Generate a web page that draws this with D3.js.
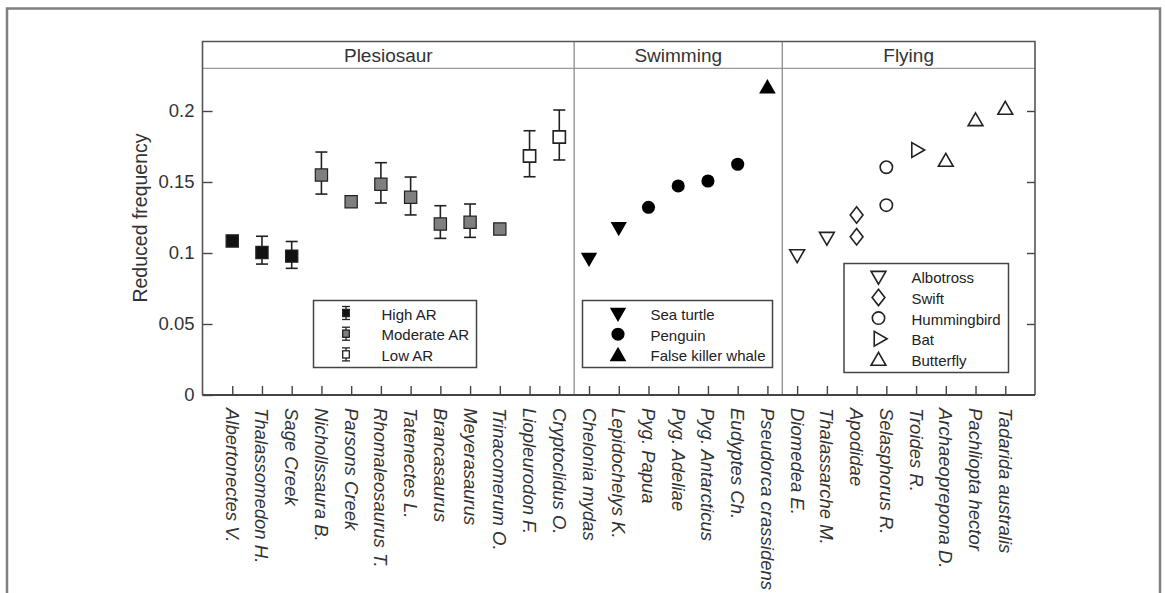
<!DOCTYPE html>
<html>
<head>
<meta charset="utf-8">
<script src="https://cdn.jsdelivr.net/npm/d3@7"></script>
<style>
  body { margin: 0; background: #fff; }
  svg { display: block; font-family: "Liberation Sans", Arial, sans-serif; }
</style>
</head>
<body>
<div id="chart"></div>
<script>
const groups = ["Plesiosaur", "Swimming", "Flying"];

const plesioNames = ["Albertonectes V.", "Thalassomedon H.", "Sage Creek", "Nichollssaura B.", "Parsons Creek", "Rhomaleosaurus T.", "Tatenectes L.", "Brancasaurus", "Meyerasaurus", "Trinacomerum O.", "Liopleurodon F.", "Cryptoclidus O."];
const plesioValues = [0.1085, 0.1003, 0.0978, 0.1549, 0.1361, 0.1484, 0.1392, 0.1204, 0.1216, 0.1169, 0.1683, 0.1817];
const plesioLow = [null, 0.0922, 0.0892, 0.1415, null, 0.1352, 0.1268, 0.1103, 0.111, null, 0.1537, 0.1655];
const plesioHigh = [null, 0.1118, 0.1081, 0.1711, null, 0.1636, 0.1535, 0.1333, 0.1345, null, 0.1861, 0.2007];
const plesioAR = ["High AR", "High AR", "High AR", "Moderate AR", "Moderate AR", "Moderate AR", "Moderate AR", "Moderate AR", "Moderate AR", "Moderate AR", "Low AR", "Low AR"];

const swimNames = ["Chelonia mydas", "Lepidochelys K.", "Pyg. Papua", "Pyg. Adeliae", "Pyg. Antarcticus", "Eudyptes Ch.", "Pseudorca crassidens"];
const swimValues = [0.0968, 0.1185, 0.1322, 0.1472, 0.1507, 0.1625, 0.2157];
const swimKinds = ["Sea turtle", "Sea turtle", "Penguin", "Penguin", "Penguin", "Penguin", "False killer whale"];

const flyNames = ["Diomedea E.", "Thalassarche M.", "Apodidae", "Selasphorus R.", "Troides R.", "Archaeoprepona D.", "Pachliopta hector", "Tadarida australis"];
const flyValues = [[0.0993], [0.1115], [0.1115, 0.1268], [0.1337, 0.1604], [0.1725], [0.1641], [0.1927], [0.2007]];
const flyKinds = ["Albotross", "Albotross", "Swift", "Hummingbird", "Bat", "Butterfly", "Butterfly", "Butterfly"];

const arLegend = ["High AR", "Moderate AR", "Low AR"];
const swimLegend = ["Sea turtle", "Penguin", "False killer whale"];
const flyLegend = ["Albotross", "Swift", "Hummingbird", "Bat", "Butterfly"];

const yTicks = [0, 0.05, 0.1, 0.15, 0.2];

const width = 1165;
const height = 593;
const frame = { left: 202.5, right: 1035, top: 41.5, bottom: 395 };

const svg = d3
  .select("#chart")
  .append("svg")
  .attr("width", width)
  .attr("height", height);

// outer page border
svg
  .append("rect")
  .attr("x", 7)
  .attr("y", 8.5)
  .attr("width", 1153)
  .attr("height", 620)
  .attr("fill", "none")
  .attr("stroke", "#808080")
  .attr("stroke-width", 2.5);

const allNames = plesioNames.concat(swimNames, flyNames);
const x = d3.scalePoint().domain(allNames).range([frame.left, frame.right]).padding(1);
const y = d3.scaleLinear().domain([0, 0.23]).range([frame.bottom, 68.4]);

const headerBottom = y(0.23);
const div1 = (x(plesioNames[plesioNames.length - 1]) + x(swimNames[0])) / 2;
const div2 = (x(swimNames[swimNames.length - 1]) + x(flyNames[0])) / 2;
const groupBounds = [
  [frame.left, div1],
  [div1, div2],
  [div2, frame.right],
];

// header band + dividers
svg
  .append("line")
  .attr("x1", frame.left).attr("x2", frame.right)
  .attr("y1", headerBottom).attr("y2", headerBottom)
  .attr("stroke", "#9a9a9a").attr("stroke-width", 1.3);

[div1, div2].forEach((d) => {
  svg
    .append("line")
    .attr("x1", d).attr("x2", d)
    .attr("y1", frame.top).attr("y2", frame.bottom)
    .attr("stroke", "#8c8c8c").attr("stroke-width", 1.3);
});

svg
  .selectAll("text.group")
  .data(groups)
  .enter()
  .append("text")
  .attr("class", "group")
  .attr("x", (d, i) => (groupBounds[i][0] + groupBounds[i][1]) / 2)
  .attr("y", (frame.top + headerBottom) / 2 + 1)
  .attr("text-anchor", "middle")
  .attr("dominant-baseline", "central")
  .attr("font-size", 19)
  .attr("fill", "#333")
  .text((d) => d);

// axes
const yAxis = d3.axisLeft(y).tickValues(yTicks).tickSize(-10).tickPadding(8).tickFormat((d) => String(d));
const gy = svg.append("g").attr("transform", `translate(${frame.left},0)`).call(yAxis);
gy.select(".domain").remove();
gy.selectAll(".tick line").attr("stroke", "#444").attr("stroke-width", 1.4);
gy.selectAll(".tick text").attr("font-size", 18.5).attr("fill", "#333").attr("font-family", null);

const yAxisR = d3.axisRight(y).tickValues(yTicks.slice(1)).tickSize(-8).tickFormat("");
const gyr = svg.append("g").attr("transform", `translate(${frame.right},0)`).call(yAxisR);
gyr.select(".domain").remove();
gyr.selectAll(".tick line").attr("stroke", "#444").attr("stroke-width", 1.4);

const xAxis = d3.axisBottom(x).tickSize(-9).tickFormat("");
const gx = svg.append("g").attr("transform", `translate(0,${frame.bottom})`).call(xAxis);
gx.select(".domain").remove();
gx.selectAll(".tick line").attr("stroke", "#444").attr("stroke-width", 1.4);

svg
  .selectAll("text.xlab")
  .data(allNames)
  .enter()
  .append("text")
  .attr("class", "xlab")
  .attr("transform", (d) => `translate(${x(d)},${frame.bottom + 13}) rotate(90)`)
  .attr("dominant-baseline", "central")
  .attr("font-size", 18.5)
  .attr("font-style", "italic")
  .attr("fill", "#333")
  .text((d) => d);

// plot frame
svg
  .append("path")
  .attr("d", `M${frame.left},${frame.bottom}V${frame.top}H${frame.right}V${frame.bottom}`)
  .attr("fill", "none")
  .attr("stroke", "#555")
  .attr("stroke-width", 1.6);
svg
  .append("line")
  .attr("x1", frame.left).attr("x2", frame.right)
  .attr("y1", frame.bottom).attr("y2", frame.bottom)
  .attr("stroke", "#444").attr("stroke-width", 1.8);

svg
  .append("text")
  .attr("transform", `translate(140,218) rotate(-90)`)
  .attr("text-anchor", "middle")
  .attr("dominant-baseline", "central")
  .attr("font-size", 19.5)
  .attr("fill", "#333")
  .text("Reduced frequency");

// marker shapes
const diamond = "M0,-8.2L6.4,0L0,8.2L-6.4,0Z";
const markers = {
  "High AR": { d: d3.symbol(d3.symbolSquare, 150)(), rot: 0, fill: "#111" },
  "Moderate AR": { d: d3.symbol(d3.symbolSquare, 150)(), rot: 0, fill: "#7f7f7f" },
  "Low AR": { d: d3.symbol(d3.symbolSquare, 150)(), rot: 0, fill: "#fff" },
  "Sea turtle": { d: d3.symbol(d3.symbolTriangle, 115)(), rot: 180, fill: "#000" },
  Penguin: { d: d3.symbol(d3.symbolCircle, 135)(), rot: 0, fill: "#000" },
  "False killer whale": { d: d3.symbol(d3.symbolTriangle, 120)(), rot: 0, fill: "#000" },
  Albotross: { d: d3.symbol(d3.symbolTriangle, 95)(), rot: 180, fill: "#fff" },
  Swift: { d: diamond, rot: 0, fill: "#fff" },
  Hummingbird: { d: d3.symbol(d3.symbolCircle, 120)(), rot: 0, fill: "#fff" },
  Bat: { d: d3.symbol(d3.symbolTriangle, 95)(), rot: 90, fill: "#fff" },
  Butterfly: { d: d3.symbol(d3.symbolTriangle, 95)(), rot: 0, fill: "#fff" },
};

function drawMarker(g, kind, cx, cy) {
  const m = markers[kind];
  g.append("path")
    .attr("d", m.d)
    .attr("transform", `translate(${cx},${cy}) rotate(${m.rot})`)
    .attr("fill", m.fill)
    .attr("stroke", m.fill === "#000" ? "none" : "#222")
    .attr("stroke-width", m.fill === "#fff" ? 1.6 : 1.2);
}

// plesiosaur error bars + squares
const plesio = plesioNames.map((n, i) => ({
  name: n, value: plesioValues[i], low: plesioLow[i], high: plesioHigh[i], ar: plesioAR[i],
}));
const errG = svg.append("g").attr("stroke", "#222").attr("stroke-width", 1.6);
plesio.filter((d) => d.low !== null).forEach((d) => {
  const cx = x(d.name);
  errG.append("line").attr("x1", cx).attr("x2", cx).attr("y1", y(d.low)).attr("y2", y(d.high));
  errG.append("line").attr("x1", cx - 6).attr("x2", cx + 6).attr("y1", y(d.low)).attr("y2", y(d.low));
  errG.append("line").attr("x1", cx - 6).attr("x2", cx + 6).attr("y1", y(d.high)).attr("y2", y(d.high));
});
const ptG = svg.append("g");
plesio.forEach((d) => drawMarker(ptG, d.ar, x(d.name), y(d.value)));

swimNames.forEach((n, i) => drawMarker(ptG, swimKinds[i], x(n), y(swimValues[i])));
flyNames.forEach((n, i) => {
  flyValues[i].forEach((v) => drawMarker(ptG, flyKinds[i], x(n), y(v)));
});

// legends
function legendBox(x0, y0, w, h) {
  svg
    .append("rect")
    .attr("x", x0).attr("y", y0)
    .attr("width", w).attr("height", h)
    .attr("fill", "#fff")
    .attr("stroke", "#444")
    .attr("stroke-width", 1.5);
}
function legendText(tx, ty, label) {
  svg
    .append("text")
    .attr("x", tx).attr("y", ty)
    .attr("dominant-baseline", "central")
    .attr("font-size", 15)
    .attr("fill", "#222")
    .text(label);
}

const rowStep = 20.7;

legendBox(313.5, 300.5, 163, 67);
arLegend.forEach((k, i) => {
  const cy = 313 + i * rowStep;
  const cx = 346;
  const g = svg.append("g").attr("stroke", "#222").attr("stroke-width", 1.3);
  g.append("line").attr("x1", cx).attr("x2", cx).attr("y1", cy - 6.5).attr("y2", cy + 6.5);
  g.append("line").attr("x1", cx - 4).attr("x2", cx + 4).attr("y1", cy - 6.5).attr("y2", cy - 6.5);
  g.append("line").attr("x1", cx - 4).attr("x2", cx + 4).attr("y1", cy + 6.5).attr("y2", cy + 6.5);
  g.append("rect")
    .attr("x", cx - 3.3).attr("y", cy - 3.6)
    .attr("width", 6.6).attr("height", 7.2)
    .attr("fill", markers[k].fill);
  legendText(381.5, cy + 1, k);
});

legendBox(582.5, 300.5, 190, 67);
swimLegend.forEach((k, i) => {
  const cy = 313.5 + i * rowStep;
  drawMarker(svg, k, 618, cy + (k === "Sea turtle" ? -1 : k === "False killer whale" ? 1.5 : 0));
  legendText(650.5, cy + 1, k);
});

legendBox(844, 263.5, 164.5, 109);
flyLegend.forEach((k, i) => {
  const cy = 276.7 + i * rowStep;
  drawMarker(svg, k, 878.5, cy + (k === "Albotross" ? -1 : k === "Butterfly" ? 1.5 : 0));
  legendText(911.5, cy + 1, k);
});
</script>
</body>
</html>
